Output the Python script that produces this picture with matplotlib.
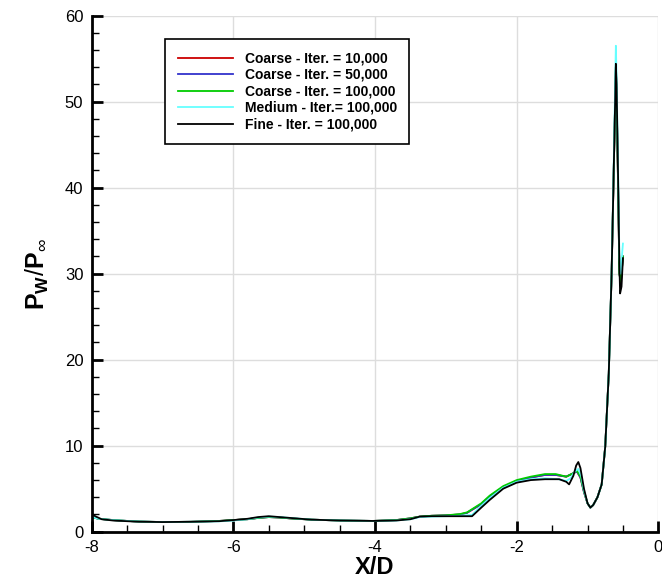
import matplotlib
matplotlib.use("Agg")
import matplotlib.pyplot as plt
from matplotlib.ticker import MultipleLocator

plt.rcParams['font.family'] = ['Liberation Sans', 'DejaVu Sans']
plt.rcParams['mathtext.fontset'] = 'custom'
plt.rcParams['mathtext.rm'] = 'Liberation Sans'
plt.rcParams['mathtext.bf'] = 'Liberation Sans:bold'
plt.rcParams['axes.unicode_minus'] = False

# wall pressure along X/D
x_fine = [-8.0, -7.95, -7.86, -7.7, -7.5, -7.33, -7.0, -6.6, -6.2, -6.0, -5.8, -5.65,
          -5.5, -5.35, -5.2, -4.9, -4.5, -4.03, -3.7, -3.5, -3.37, -3.2, -3.0, -2.8,
          -2.63, -2.5, -2.38, -2.19, -2.0, -1.8, -1.6, -1.4, -1.3, -1.26, -1.2, -1.16,
          -1.13, -1.1, -1.05, -1.0, -0.96, -0.92, -0.86, -0.8, -0.75, -0.7, -0.66,
          -0.63, -0.61, -0.6, -0.59, -0.57, -0.55, -0.54, -0.52, -0.50]
y_fine = [2.1, 1.8, 1.45, 1.3, 1.22, 1.16, 1.12, 1.15, 1.22, 1.35, 1.5, 1.7,
          1.8, 1.7, 1.6, 1.4, 1.3, 1.25, 1.3, 1.45, 1.75, 1.8, 1.8, 1.8,
          1.8, 2.8, 3.7, 5.0, 5.7, 6.0, 6.1, 6.1, 5.8, 5.5, 6.5, 7.7,
          8.1, 7.4, 5.0, 3.3, 2.8, 3.1, 4.0, 5.5, 9.9, 18.4, 30.0,
          42.0, 50.0, 54.4, 52.0, 42.0, 31.0, 27.7, 28.5, 31.8]

x_medium = [-8.0, -7.9, -7.7, -7.5, -7.33, -7.0, -6.6, -6.2, -6.0, -5.8, -5.65,
            -5.5, -5.35, -5.2, -4.9, -4.5, -4.03, -3.7, -3.5, -3.37, -3.2, -3.0, -2.8,
            -2.63, -2.5, -2.38, -2.19, -2.0, -1.8, -1.6, -1.4, -1.3, -1.24, -1.18,
            -1.13, -1.09, -1.05, -1.0, -0.96, -0.92, -0.86, -0.8, -0.75, -0.7, -0.66,
            -0.63, -0.61, -0.6, -0.59, -0.57, -0.55, -0.53, -0.51, -0.50]
y_medium = [1.7, 1.5, 1.35, 1.25, 1.18, 1.12, 1.15, 1.2, 1.3, 1.45, 1.65,
            1.75, 1.7, 1.6, 1.4, 1.3, 1.25, 1.3, 1.45, 1.7, 1.75, 1.8, 1.85,
            1.95, 3.0, 3.9, 5.1, 5.8, 6.1, 6.2, 6.1, 5.9, 6.2, 7.0,
            7.3, 6.5, 4.8, 3.3, 2.8, 3.1, 4.0, 5.5, 9.9, 18.4, 30.0,
            43.0, 52.0, 56.5, 53.0, 43.0, 32.0, 30.0, 32.5, 33.5]

x_coarse = [-8.0, -7.9, -7.7, -7.5, -7.33, -7.0, -6.6, -6.2, -6.0, -5.8, -5.65,
            -5.5, -5.35, -5.2, -4.9, -4.5, -4.03, -3.7, -3.5, -3.37, -3.2, -3.0, -2.8,
            -2.7, -2.5, -2.38, -2.19, -2.0, -1.8, -1.6, -1.45, -1.3, -1.2, -1.15,
            -1.1, -1.05, -1.0, -0.96, -0.92, -0.86, -0.8, -0.75, -0.7, -0.66,
            -0.63, -0.61, -0.6, -0.59, -0.57, -0.55, -0.53, -0.51, -0.50]
y_coarse_10k = [1.7, 1.5, 1.35, 1.25, 1.18, 1.12, 1.15, 1.25, 1.35, 1.45, 1.6,
                1.7, 1.65, 1.55, 1.4, 1.3, 1.25, 1.35, 1.55, 1.75, 1.85, 1.9, 2.0,
                2.2, 3.2, 4.1, 5.2, 5.9, 6.3, 6.6, 6.6, 6.4, 6.8, 7.0,
                6.3, 4.6, 3.3, 2.8, 3.1, 4.0, 5.5, 9.9, 18.4, 30.0,
                42.0, 50.0, 54.0, 51.0, 41.0, 30.0, 29.0, 31.0, 32.0]
y_coarse_50k = y_coarse_10k
y_coarse_100k = [1.7, 1.5, 1.35, 1.25, 1.18, 1.12, 1.15, 1.25, 1.35, 1.45, 1.6,
                 1.7, 1.65, 1.55, 1.4, 1.3, 1.25, 1.35, 1.55, 1.75, 1.85, 1.9, 2.05,
                 2.25, 3.3, 4.2, 5.3, 6.0, 6.4, 6.7, 6.7, 6.4, 6.8, 7.1,
                 6.4, 4.7, 3.3, 2.8, 3.1, 4.0, 5.5, 9.9, 18.4, 30.0,
                 42.0, 50.0, 54.2, 51.0, 41.0, 30.0, 29.0, 31.0, 32.0]

labels = ['Coarse - Iter. = 10,000', 'Coarse - Iter. = 50,000',
          'Coarse - Iter. = 100,000', 'Medium - Iter.= 100,000',
          'Fine - Iter. = 100,000']
colors = ['#cc0000', '#3333cc', '#00cc00', '#66ffff', 'black']

fig = plt.figure(figsize=(6.62, 5.8), dpi=100)
ax = fig.add_axes([0.1385, 0.0833, 0.856, 0.8897])

series = [(x_coarse, y_coarse_10k), (x_coarse, y_coarse_50k), (x_coarse, y_coarse_100k),
          (x_medium, y_medium), (x_fine, y_fine)]
for (xs, ys), lab, col in zip(series, labels, colors):
    ax.plot(xs, ys, color=col, lw=1.3, label=lab)

ax.set_xlim(-8, 0)
ax.set_ylim(0, 60)
ax.xaxis.set_major_locator(MultipleLocator(2))
ax.xaxis.set_minor_locator(MultipleLocator(0.5))
ax.yaxis.set_major_locator(MultipleLocator(10))
ax.yaxis.set_minor_locator(MultipleLocator(2))
ax.tick_params(which='major', direction='in', length=8, width=2, labelsize=12, pad=6)
ax.tick_params(which='minor', direction='in', length=5, width=1)
ax.grid(True, which='major', color='#dddddd', lw=1)
ax.set_axisbelow(True)
for s in ['top', 'right']:
    ax.spines[s].set_visible(False)
for s in ['left', 'bottom']:
    ax.spines[s].set_linewidth(2)

ax.set_xlabel('X/D', fontsize=17, fontweight='bold', labelpad=1)
ax.set_ylabel(r'$\mathbf{P}_{\mathbf{W}}/\mathbf{P}_{\infty}$', fontsize=18, labelpad=10)

leg = ax.legend(loc='upper left', bbox_to_anchor=(0.13, 0.955), fancybox=False,
                edgecolor='black', framealpha=1, handlelength=4.0,
                prop={'weight': 'bold', 'size': 10}, borderpad=0.9,
                labelspacing=0.18, handletextpad=0.8, borderaxespad=0)
leg.get_frame().set_linewidth(1.2)

fig.savefig('out.png', dpi=100)
